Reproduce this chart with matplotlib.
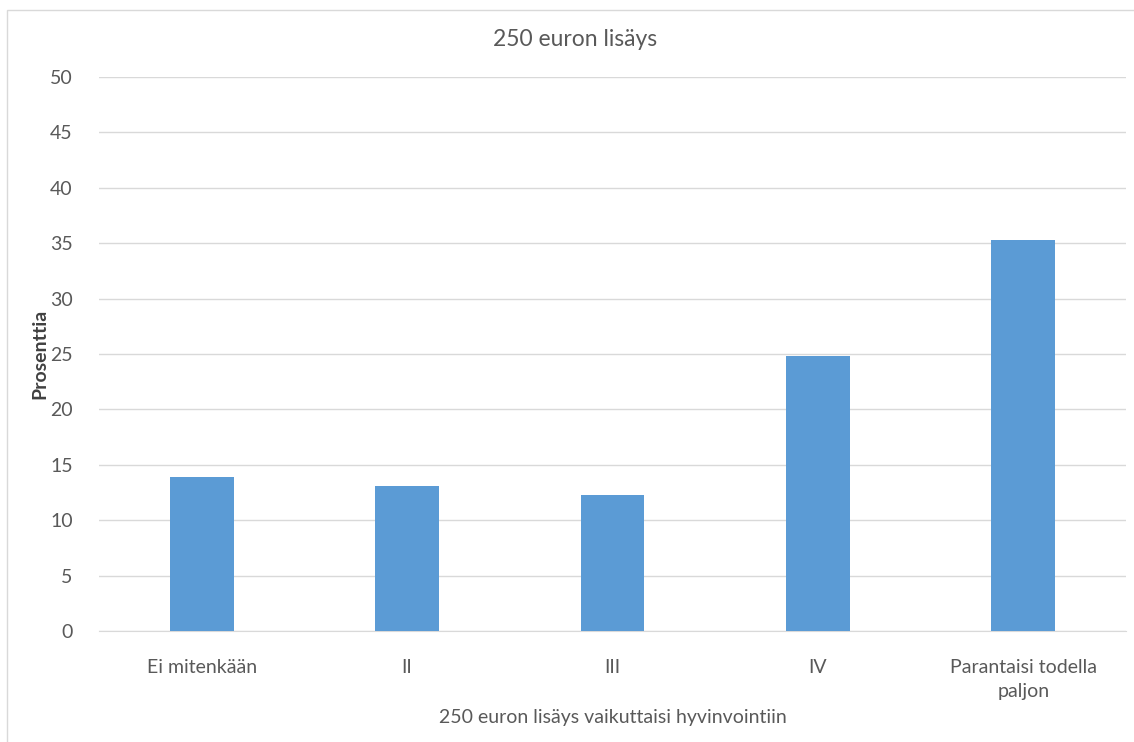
import matplotlib.pyplot as plt
from matplotlib.patches import Rectangle

# survey answers: share of respondents (%)
categories = ['Ei mitenkään', 'II', 'III', 'IV', 'Parantaisi todella\npaljon']
percent = [13.9, 13.1, 12.3, 24.8, 35.3]
yticks = list(range(0, 55, 5))

plt.rcParams['font.family'] = ['Lato', 'DejaVu Sans']
text_col = '#595959'
grid_col = '#d9d9d9'

fig = plt.figure(figsize=(11.34, 7.42), dpi=100)
ax = fig.add_axes([99 / 1134, 1 - 631 / 742, 1027 / 1134, 554 / 742])

x = range(len(categories))
ax.bar(x, percent, width=0.31, color='#5b9bd5', zorder=3)

ax.set_xlim(-0.5, len(categories) - 0.5)
ax.set_ylim(0, 50)
ax.set_yticks(yticks)
ax.set_xticks(list(x))
ax.set_xticklabels(categories, fontsize=14, color=text_col, linespacing=1.5)
ax.tick_params(axis='y', labelsize=14, labelcolor=text_col, length=0, pad=19)
ax.tick_params(axis='x', length=0, pad=20)
ax.yaxis.grid(True, color=grid_col, linewidth=1, zorder=0)

for side in ['top', 'right', 'left']:
    ax.spines[side].set_visible(False)
ax.spines['bottom'].set_color(grid_col)

ax.set_ylabel('Prosenttia', fontsize=14, color='#404040', fontweight='bold', labelpad=1)
ax.set_xlabel('250 euron lisäys vaikuttaisi hyvinvointiin', fontsize=14, color=text_col, labelpad=7)
fig.text(575 / 1134, 1 - 40 / 742, '250 euron lisäys', fontsize=16.5, color=text_col,
         ha='center', va='center')

# chart area frame
fig.patches.append(Rectangle((7 / 1134, -0.1), 1.2, 1 - 10 / 742 + 0.1,
                             transform=fig.transFigure, fill=False,
                             edgecolor='#d9d9d9', linewidth=1))

fig.savefig('out.png', dpi=100)
